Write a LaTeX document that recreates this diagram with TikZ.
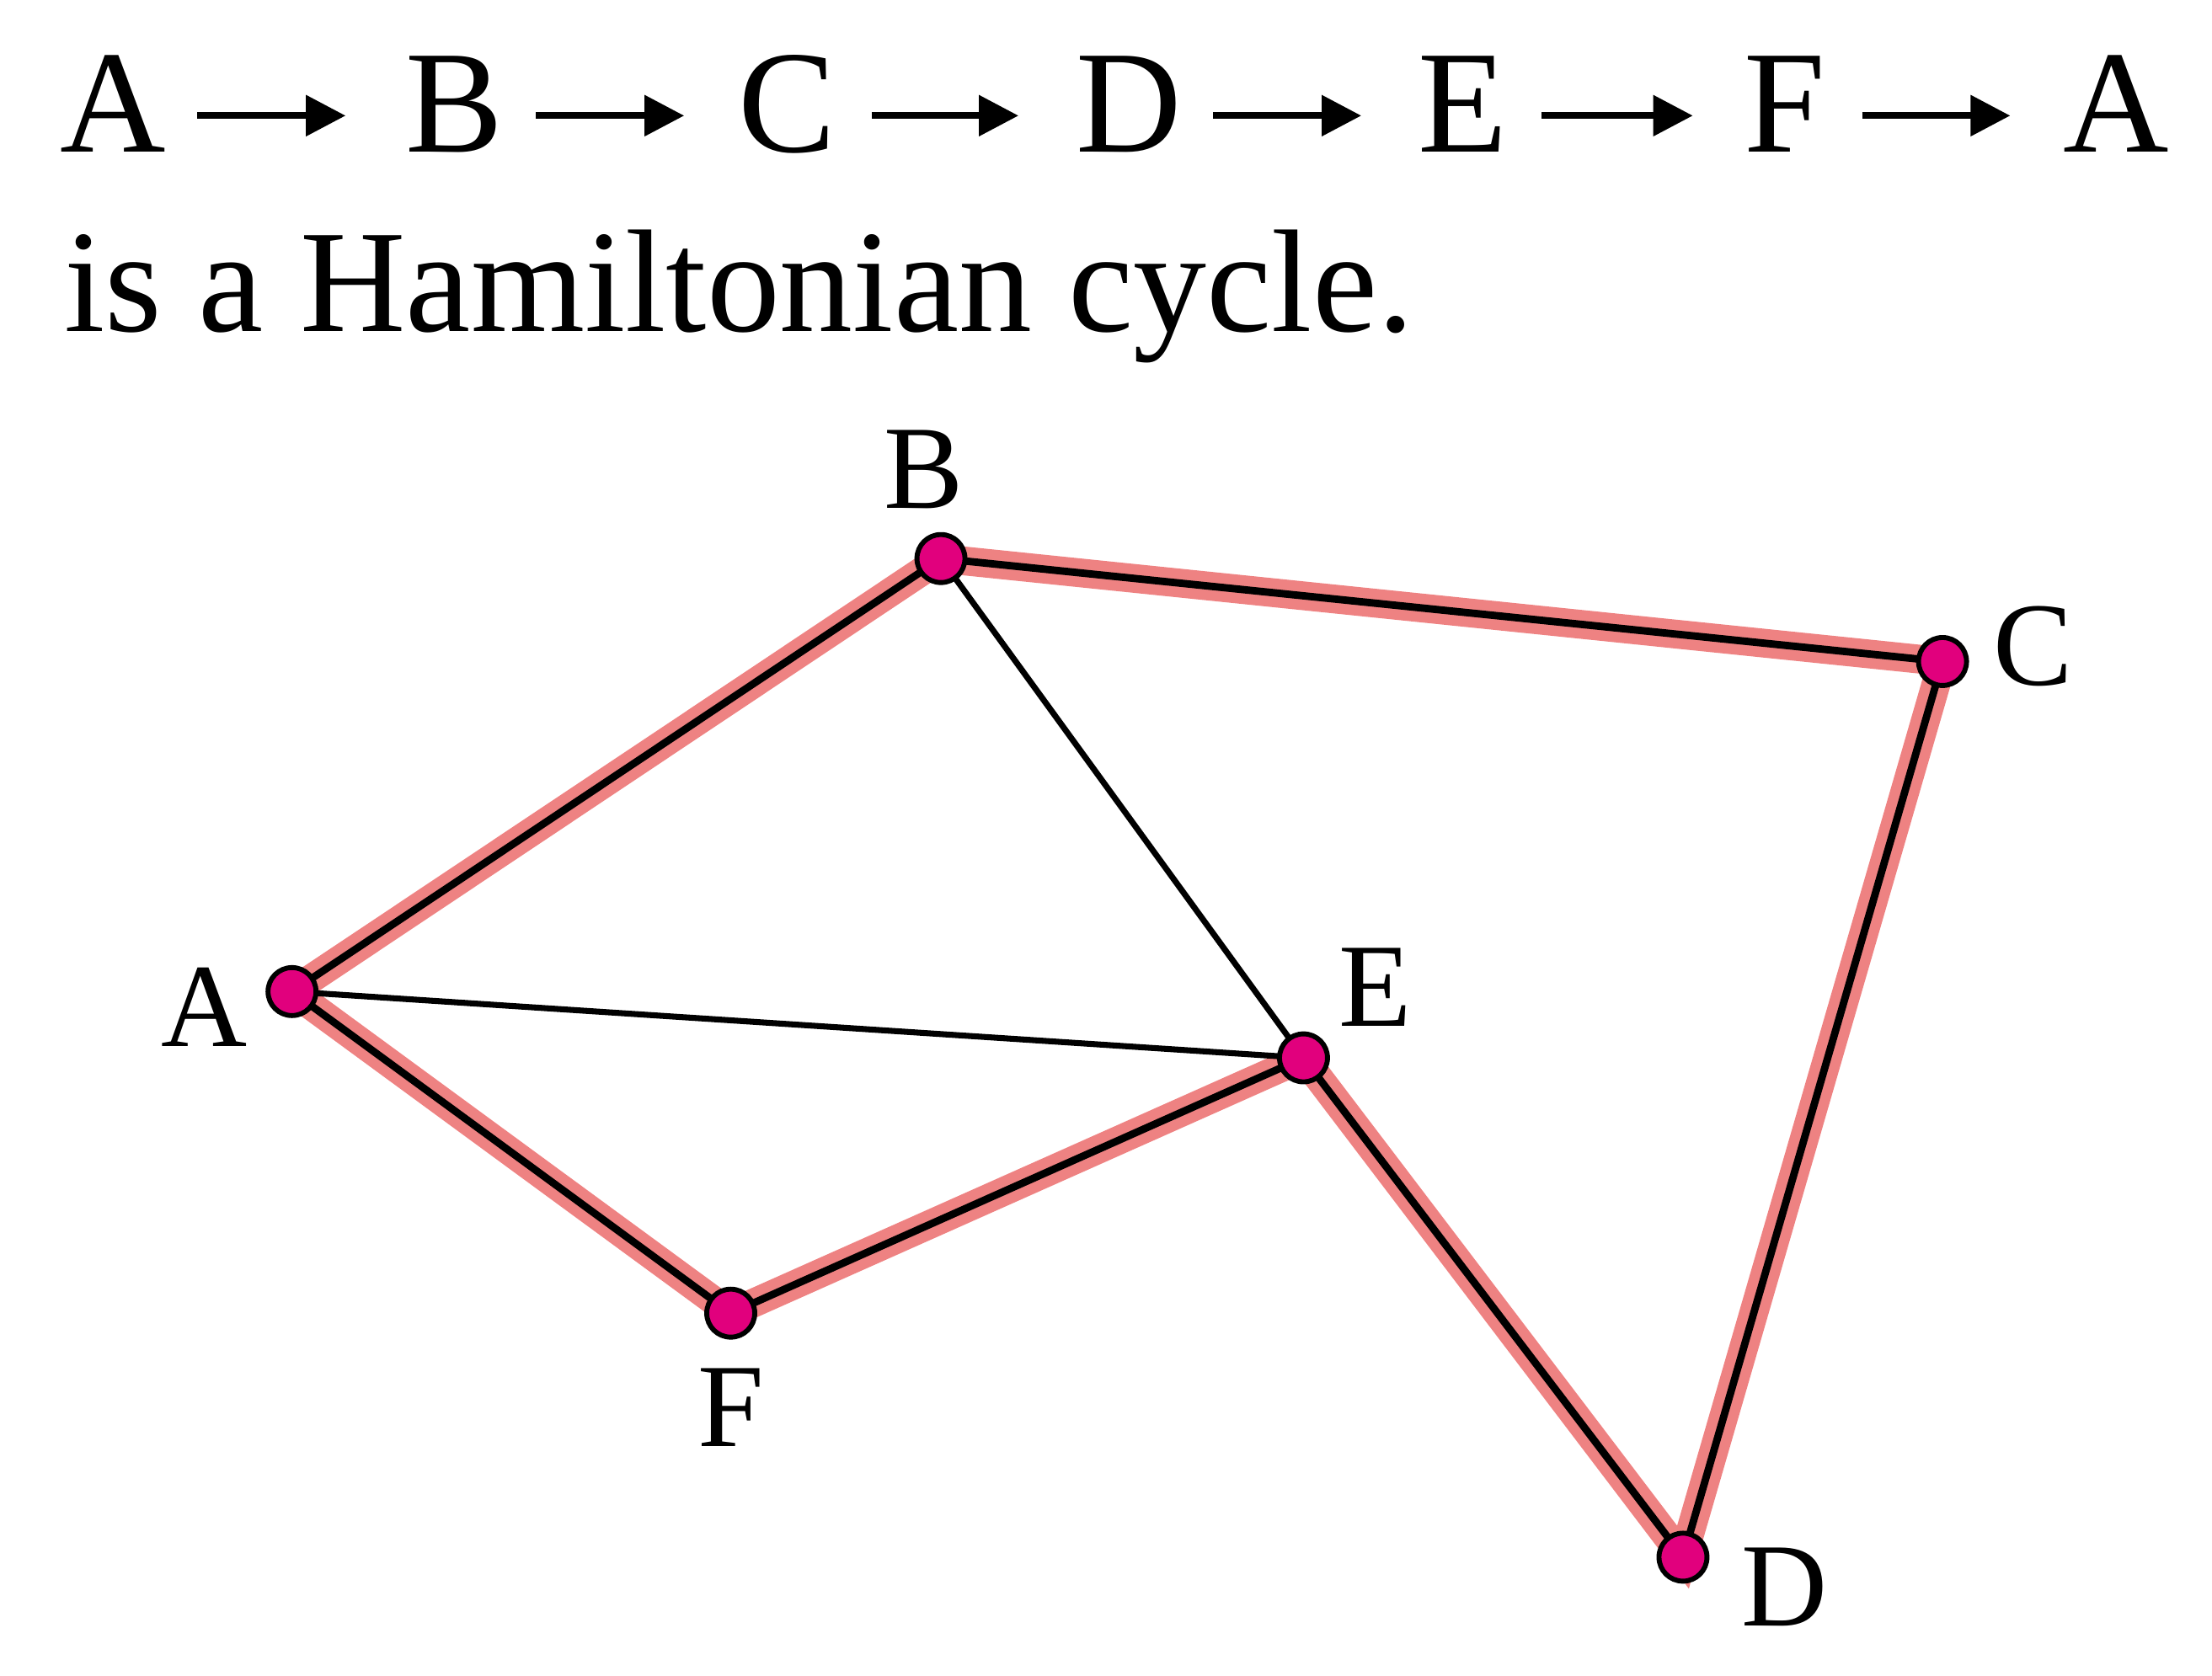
\documentclass[tikz,border=0pt]{standalone}
\usepackage{fontspec}
\setmainfont{Liberation Serif}
\usetikzlibrary{arrows.meta}
\definecolor{hl}{RGB}{238,130,130}
\definecolor{vx}{RGB}{225,0,125}
\tikzset{
 hi/.style={line width=5.8pt,hl,line cap=round},
 ed/.style={line width=1.5pt,black},
 thin/.style={line width=1.2pt,black},
 vert/.style={circle,draw=black,line width=1pt,fill=vx,minimum size=0.34cm,inner sep=0pt},
 lab/.style={font=\fontsize{24}{26}\selectfont,inner sep=0pt},
 big/.style={font=\fontsize{29.5}{32}\selectfont,inner sep=0pt,anchor=base},
 arr/.style={line width=1.4pt,-{Triangle[length=8pt,width=8pt]}}
}
\begin{document}
\begin{tikzpicture}[x=0.01cm,y=-0.01cm]
\useasboundingbox (0,0) rectangle (1568,1188);
% top text
\foreach \n/\t/\x in {t1/A/80,t2/B/322,t3/C/558,t4/D/800,t5/E/1037,t6/F/1265,t7/A/1500}
  \node[big] (\n) at (\x,108) {\t};
\foreach \a/\b in {140/245,380/485,618/722,860/965,1093/1200,1320/1425}{
  \coordinate (s) at (\a,82); \coordinate (e) at (\b,82);
  \draw[arr] (s) -- (e);}
\node[big,anchor=base west] (t8) at (45,235) {is a Hamiltonian cycle.};
% vertices
\coordinate (A) at (207,703);
\coordinate (B) at (667,396);
\coordinate (C) at (1377,469);
\coordinate (D) at (1193,1104);
\coordinate (E) at (924,750);
\coordinate (F) at (518,931);
\draw[hi] (A)--(B)--(C)--(D)--(E)--(F)--cycle;
\draw[ed] (A)--(B)--(C)--(D)--(E)--(F)--cycle;
\draw[thin] (B)--(E) (A)--(E);
\foreach \v in {A,B,C,D,E,F} \node[vert] (n\v) at (\v) {};
\node[lab] (lA) at (145,714) {A};
\node[lab] (lB) at (655,333) {B};
\node[lab] (lC) at (1441,458) {C};
\node[lab] (lD) at (1265,1125) {D};
\node[lab] (lE) at (975,700) {E};
\node[lab] (lF) at (518,998) {F};
\end{tikzpicture}
\end{document}
